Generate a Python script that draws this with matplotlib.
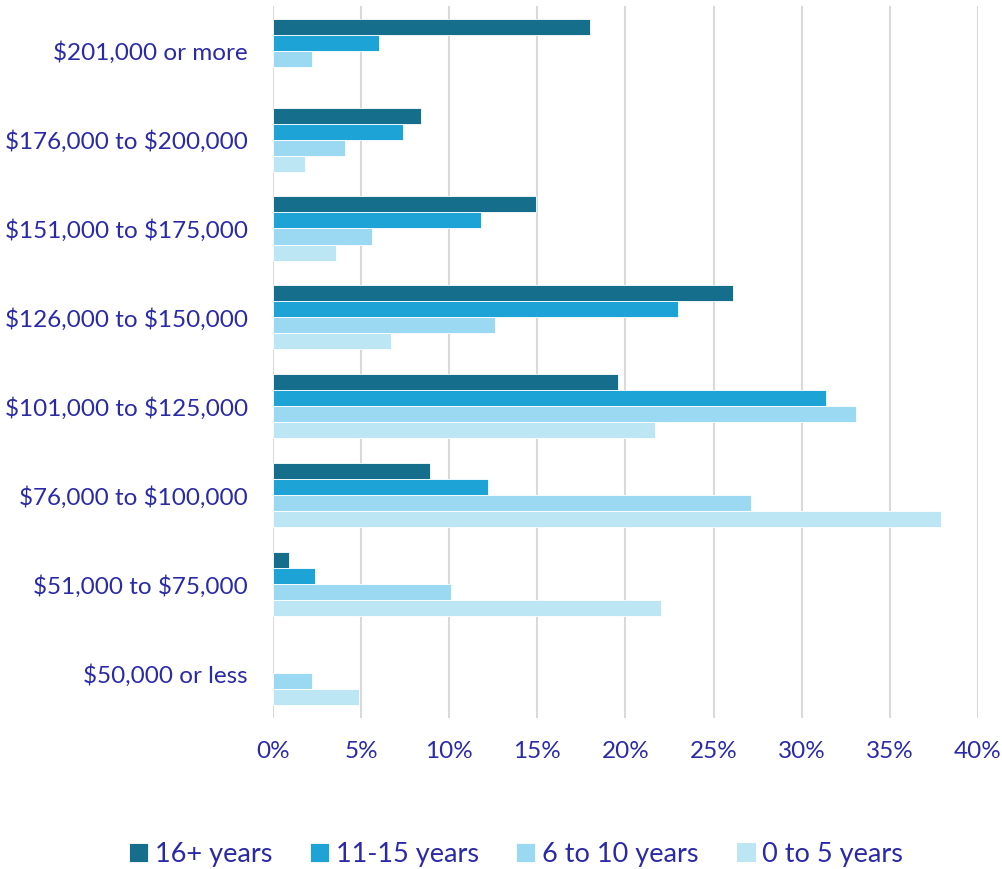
import numpy as np
from matplotlib import pyplot as plt
from matplotlib.ticker import FuncFormatter

# income brackets, top to bottom as in the chart
categories = [
    "$201,000 or more",
    "$176,000 to $200,000",
    "$151,000 to $175,000",
    "$126,000 to $150,000",
    "$101,000 to $125,000",
    "$76,000 to $100,000",
    "$51,000 to $75,000",
    "$50,000 or less",
]
series_names = ["16+ years", "11-15 years", "6 to 10 years", "0 to 5 years"]

# percent of respondents, per category
years_16_plus = [18.0, 8.4, 14.9, 26.1, 19.6, 8.9, 0.9, 0.0]
years_11_15 = [6.0, 7.4, 11.8, 23.0, 31.4, 12.2, 2.4, 0.0]
years_6_10 = [2.2, 4.1, 5.6, 12.6, 33.1, 27.1, 10.1, 2.2]
years_0_5 = [0.0, 1.8, 3.6, 6.7, 21.7, 37.9, 22.0, 4.9]

colors = ["#156E8C", "#1DA3D6", "#9BD9F2", "#BDE6F5"]
text_color = "#2A2AA8"

plt.rcParams["font.family"] = ["Lato", "DejaVu Sans"]
plt.rcParams["text.parse_math"] = False

fig = plt.figure(figsize=(10.02, 8.69), dpi=100)
ax = fig.add_axes([0.2725, 0.174, 0.7035, 0.819])

y = np.arange(len(categories))
h = 0.18
all_series = [years_16_plus, years_11_15, years_6_10, years_0_5]
for i, (vals, name, c) in enumerate(zip(all_series, series_names, colors)):
    # no white edge on empty bars, so the 0% gridline stays visible
    lw = [0.6 if v > 0 else 0 for v in vals]
    ax.barh(y + (i - 1.5) * h, vals, height=h, color=c, label=name,
            edgecolor="white", linewidth=lw, zorder=3)

ax.set_xlim(0, 40)
ax.set_ylim(len(categories) - 0.5, -0.5)
ax.set_xticks(np.arange(0, 41, 5))
ax.xaxis.set_major_formatter(FuncFormatter(lambda v, p: f"{v:.0f}%"))
ax.set_yticks(y)
ax.set_yticklabels(categories)
ax.grid(axis="x", color="#D9D9D9", linewidth=1.5, zorder=0)
for s in ax.spines.values():
    s.set_visible(False)
ax.tick_params(axis="both", length=0, labelsize=17.5, colors=text_color)
ax.tick_params(axis="x", pad=17)
ax.tick_params(axis="y", pad=18)

leg = fig.legend(loc="lower center", bbox_to_anchor=(0.515, -0.026), ncol=4,
                 frameon=False, fontsize=19.5, handlelength=0.7, handleheight=0.7,
                 handletextpad=0.25, columnspacing=1.4)
for t in leg.get_texts():
    t.set_color(text_color)

fig.savefig("out.png", dpi=100)
